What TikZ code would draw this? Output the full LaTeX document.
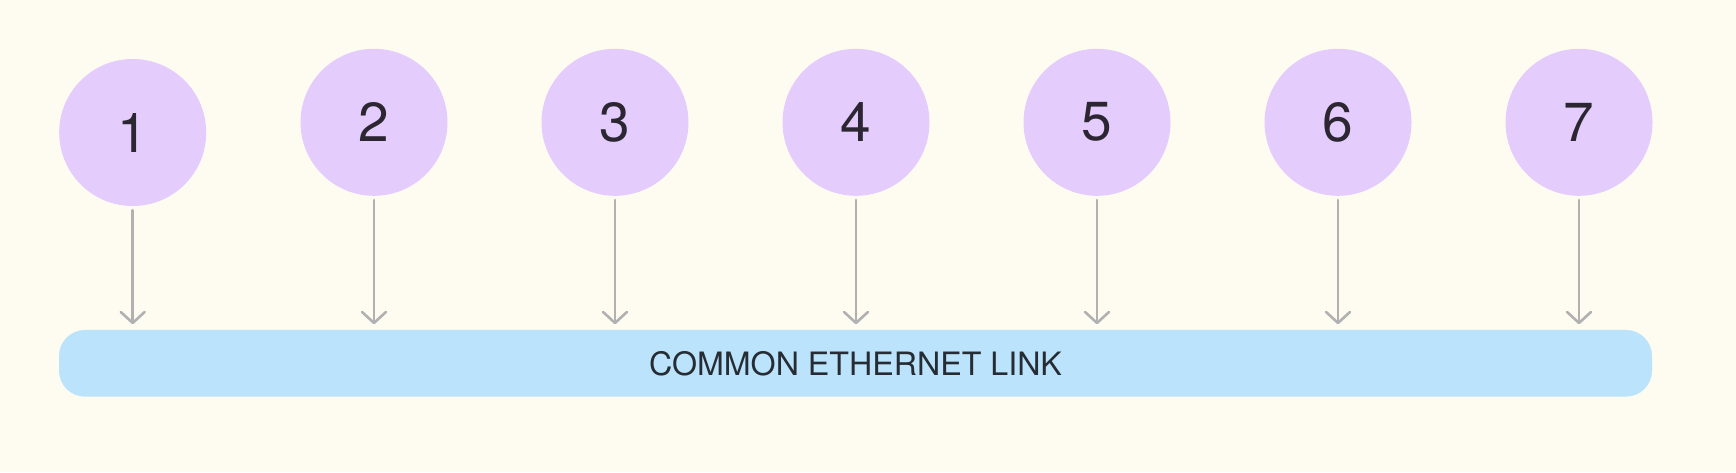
\documentclass[tikz,border=0pt]{standalone}
\usepackage{fontspec}
\setmainfont{TeX Gyre Heros}
\usetikzlibrary{arrows.meta}
\definecolor{bgc}{HTML}{FEFCF1}
\definecolor{circc}{HTML}{E4CCFC}
\definecolor{barc}{HTML}{BBE3FC}
\definecolor{arrc}{HTML}{B1B1B1}
\definecolor{digc}{HTML}{2B2631}
\definecolor{txtc}{HTML}{262C33}
\tikzset{
  station/.style={circle, fill=circc, draw=none, minimum size=147pt, inner sep=0pt,
    text=digc, font=\fontsize{55}{55}\selectfont},
  linkbar/.style={rectangle, rounded corners=26pt, fill=barc, draw=none,
    minimum width=1593pt, minimum height=66.7pt, inner sep=0pt,
    text=txtc, font=\fontsize{32.2}{32.2}\selectfont},
  arr/.style={draw=arrc, line width=2.6pt, line cap=round,
    -{Straight Barb[length=11pt, width=24pt, line width=2.6pt, round]},
    shorten <=4pt, shorten >=5.5pt}
}
\begin{document}
\begin{tikzpicture}[x=1pt, y=-1pt]
  \fill[bgc] (0,0) rectangle (1736,472);
  \useasboundingbox (0,0) rectangle (1736,472);
  \node[linkbar] (bar) at (855.5,363.3) {COMMON ETHERNET LINK};
  \node[station] (c1) at (132.7,132.5) {1};
  \node[station] (c2) at (374,122.3) {2};
  \node[station] (c3) at (615,122.3) {3};
  \node[station] (c4) at (856,122.3) {4};
  \node[station] (c5) at (1097,122.3) {5};
  \node[station] (c6) at (1338,122.3) {6};
  \node[station] (c7) at (1579,122.3) {7};
  \foreach \i in {1,...,7} {
    \draw[arr] (c\i) -- (c\i |- bar.north);
  }
\end{tikzpicture}
\end{document}
